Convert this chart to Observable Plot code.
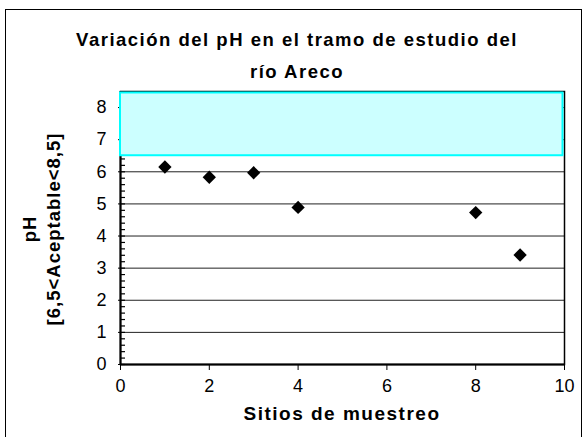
<!DOCTYPE html>
<html><head><meta charset="utf-8">
<script src="https://cdn.jsdelivr.net/npm/d3@7"></script>
<script src="https://cdn.jsdelivr.net/npm/@observablehq/plot@0.6"></script>
<style>
html,body{margin:0;padding:0;background:#fff;overflow:hidden;}
#wrap{position:relative;width:588px;height:437px;font-family:"Liberation Sans",Arial,sans-serif;background:#fff;}
#border{position:absolute;left:5px;top:9px;width:577px;height:470px;border:1.5px solid #000;box-sizing:border-box;pointer-events:none;}
.t{position:absolute;font-weight:bold;white-space:nowrap;color:#000;text-align:center;}
#title{left:0;width:594px;top:24px;font-size:18.5px;letter-spacing:1.5px;line-height:32px;}
#xlabel{left:192px;width:300px;top:402px;font-size:19px;letter-spacing:1.5px;line-height:24px;}
#ylabel{left:-88px;width:260px;top:205px;height:48px;font-size:18.5px;letter-spacing:1px;line-height:24px;transform:rotate(-90deg);transform-origin:center center;}
#chart{position:absolute;left:0;top:0;}
</style>
</head><body>
<div id="wrap">
  <div id="chart"></div>
  <div id="border"></div>
  <div class="t" id="title"></div>
  <div class="t" id="xlabel"></div>
  <div class="t" id="ylabel"></div>
</div>
<script>
// Data
const sitios = [1, 2, 3, 4, 8, 9];
const ph = [6.15, 5.83, 5.97, 4.89, 4.73, 3.41];
const xTicks = [0, 2, 4, 6, 8, 10];
const yTicks = [0, 1, 2, 3, 4, 5, 6, 7, 8];
const gridLines = [1, 2, 3, 4, 5, 6, 7, 8];
const minorTicks = d3.range(0, 43).map(i => i / 5);
const acceptableLow = 6.5;
const acceptableHigh = 8.5;
const xDomain = [0, 10];
const yDomain = [0, 8.5];
const titleLines = ["Variación del pH en el tramo de estudio del", "río Areco"];
const xTitle = "Sitios de muestreo";
const yTitleLines = ["pH", "[6,5<Aceptable<8,5]"];

const points = sitios.map((s, i) => ({sitio: s, ph: ph[i]}));
const band = [{x1: xDomain[0], x2: xDomain[1], y1: acceptableLow, y2: acceptableHigh}];

document.getElementById("title").innerHTML = titleLines.join("<br>");
document.getElementById("xlabel").textContent = xTitle;
document.getElementById("ylabel").innerHTML = yTitleLines.map(s => s.replace(/</g, "&lt;")).join("<br>");

const chart = Plot.plot({
  width: 588,
  height: 437,
  marginLeft: 120,
  marginRight: 24,
  marginTop: 91,
  marginBottom: 73,
  style: {fontFamily: '"Liberation Sans", Arial, sans-serif', fontSize: "18px", color: "#000", background: "transparent"},
  x: {domain: xDomain},
  y: {domain: yDomain},
  marks: [
    Plot.ruleY(gridLines, {stroke: "#222", strokeWidth: 1}),
    Plot.axisY({ticks: minorTicks, tickSize: -5, tickFormat: () => "", stroke: "#000", strokeWidth: 1.2, label: null}),
    Plot.axisY({ticks: yTicks, tickSize: 2, tickPadding: 12, tickFormat: d => String(d), stroke: "#000", label: null, fontSize: 18}),
    Plot.axisX({ticks: xTicks, tickSize: 6, tickPadding: 9, tickFormat: d => String(d), stroke: "#000", label: null, fontSize: 18}),
    Plot.frame({stroke: "#000", strokeWidth: 1.5}),
    Plot.ruleX([xDomain[0]], {stroke: "#000", strokeWidth: 2}),
    Plot.ruleY([yDomain[0]], {stroke: "#000", strokeWidth: 2}),
    Plot.rect(band, {x1: "x1", x2: "x2", y1: "y1", y2: "y2", fill: "#CCFFFF", stroke: "#00FFFF", strokeWidth: 2, insetTop: 1.5, insetRight: 1.5}),
    Plot.dot(points, {x: "sitio", y: "ph", symbol: "diamond2", r: 6, fill: "#000", stroke: "none"})
  ]
});
document.getElementById("chart").appendChild(chart);
</script>
</body></html>
